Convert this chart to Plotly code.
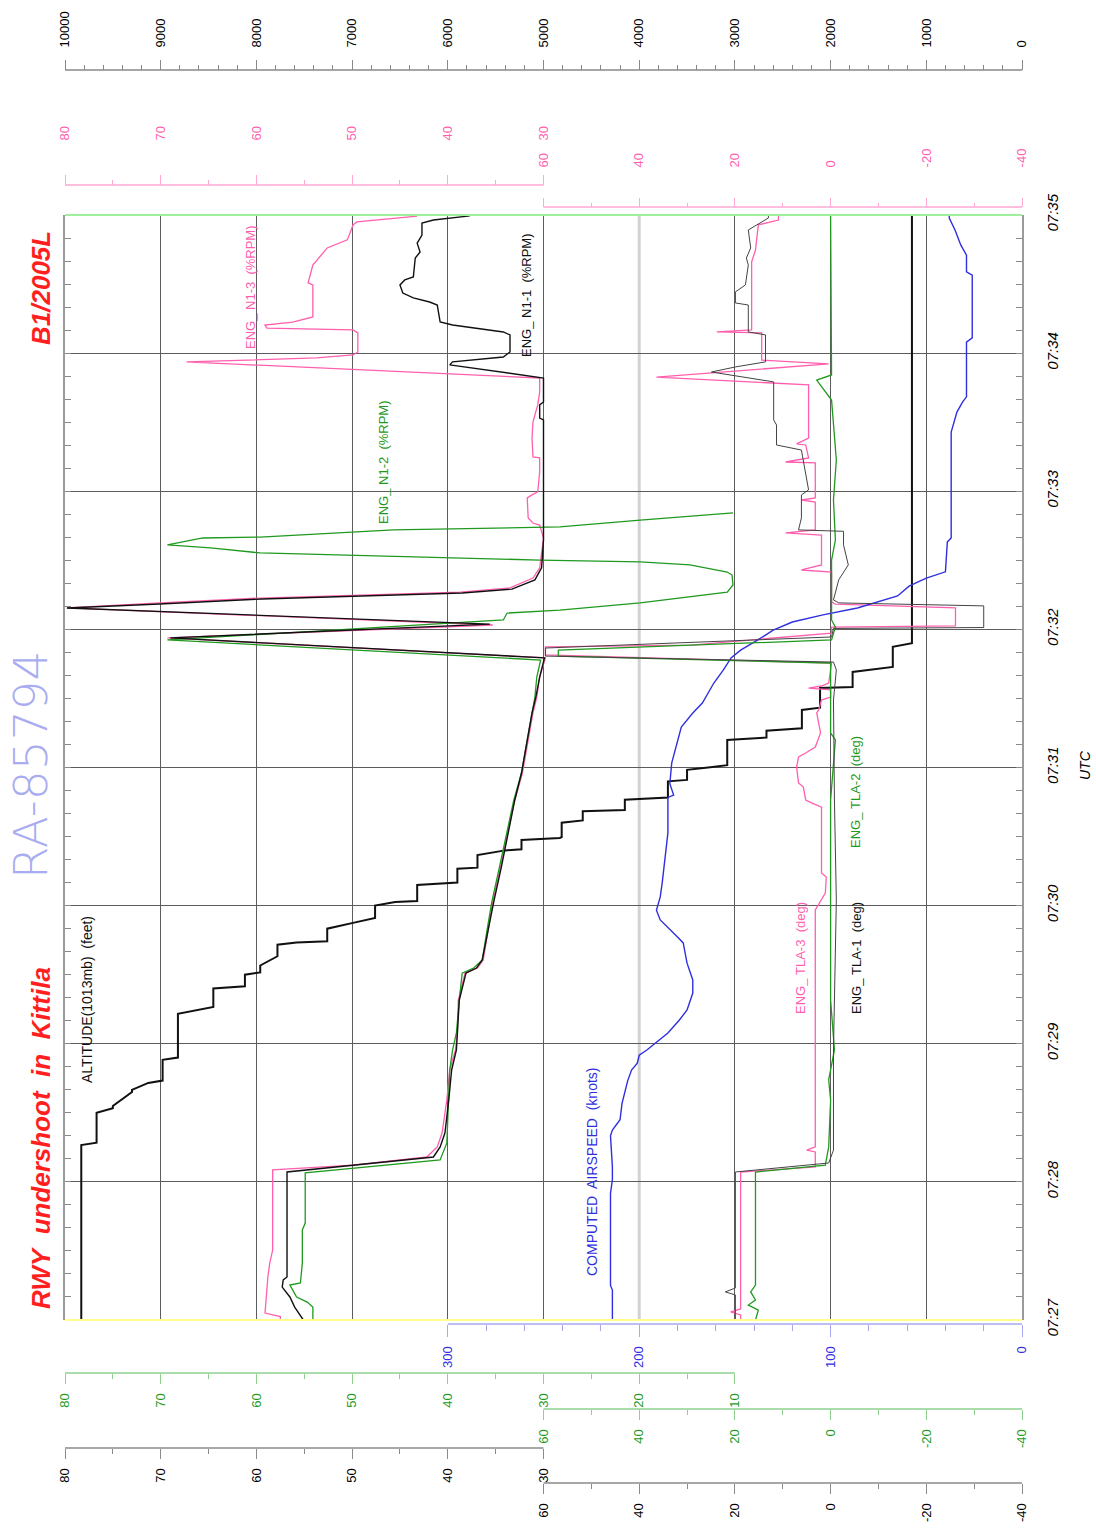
import plotly.graph_objects as go

W, H = 1096, 1531
FONT = "Liberation Sans, Arial, sans-serif"

# ---------------- data (time = seconds after 07:27:00) ----------------
time_ticks = [0, 60, 120, 180, 240, 300, 360, 420, 480]
time_labels = ["07:27", "07:28", "07:29", "07:30", "07:31", "07:32", "07:33", "07:34", "07:35"]

alt_t = [0, 76, 77, 90, 92, 93, 99, 100, 103, 104, 113, 114, 133, 136, 144, 145, 150, 151, 154, 158,
         163, 164, 164.5, 170, 172.5, 174.6, 180, 181.6, 182, 189, 190, 196, 196.5, 202, 204, 204.5,
         208.5, 209.4, 209.8, 216, 217, 221, 221.5, 226, 227, 234, 234.6, 239, 240, 241, 252, 253,
         256, 257, 265, 266, 274.5, 275, 281.5, 283.7, 292.4, 294, 480]
alt_ft = [9830, 9830, 9670, 9670, 9500, 9500, 9300, 9300, 9130, 8980, 8980, 8820, 8820, 8450, 8450, 8120, 8120, 7960, 7960, 7780,
          7780, 7580, 7260, 7260, 6990, 6760, 6760, 6550, 6320, 6320, 5900, 5900, 5690, 5690, 5400, 5230,
          5230, 4830, 4810, 4810, 4590, 4590, 4150, 4150, 3700, 3700, 3500, 3500, 3280, 3080, 3080, 2670,
          2670, 2300, 2300, 2110, 2110, 1770, 1770, 1350, 1350, 1150, 1150]

cas_t = [0, 13, 15, 55, 61, 66.5, 80, 82.5, 87, 94, 104, 108.6, 111.6, 115, 117.3, 118.6, 124.7, 130.3,
         134.7, 142, 147.7, 155, 163.8, 166.4, 170.7, 173.8, 178, 183.8, 189.8, 196.8, 203, 211.6, 220,
         227, 228, 233, 242, 252, 257.6, 263.7, 268, 276.7, 282.4, 287.6, 291, 295.4, 299.7, 303.2,
         306.3, 309.3, 314.5, 318.8, 322.3, 325, 338, 339.7, 385.7, 394.4, 398.8, 401, 424.8, 426.6,
         453.9, 455.3, 462.6, 467, 473.5, 478.7, 480]
cas_kt = [214, 214, 215, 215, 214, 214, 215, 214, 210, 209, 206, 204, 201, 200, 196, 194, 185, 179,
          175, 172, 172, 175, 177, 180, 185, 189, 191, 189, 188, 187, 186, 185, 185,
          185, 182, 184, 183, 180, 178, 172, 167, 161, 156, 152, 147, 138, 130, 120,
          104, 86, 65, 59, 50, 40, 39, 37, 37, 34, 31, 29, 29, 26,
          26, 29, 29, 32, 35, 38, 38]

n1_3_t = [0, 1.5, 3, 18.7, 24.8, 30.4, 65.2, 67.3, 70.8, 75.2, 81.2, 95.6, 108.6, 117.3, 124.7, 139,
          150.7, 152.9, 156.4, 169.4, 181.6, 196.8, 211.6, 225.9, 237.6, 252, 263.7, 270.6, 279.3,
          287.6, 296.3, 301.9, 309.3, 311.5, 313.6, 314.9, 316.2, 318, 322.3, 326.7, 339.7, 345.3,
          346.2, 348.4, 357.1, 358.4, 359.7, 368.4, 374.5, 374.9, 383.1, 390.1, 397.5, 403.1, 409.2,
          416.2, 417.9, 419.2, 420.5, 428.8, 430.1, 430.9, 432.2, 433.5, 435.7, 449.6, 450.5, 458.3,
          465.7, 469.2, 475.7, 477, 479.5]
n1_3 = [57.5, 57.5, 59.1, 58.8, 58.6, 58.3, 58.3, 49.9, 42.2, 41.1, 40.6, 40.1, 39.8, 39.2, 39.0, 38.9,
        38.2, 36.9, 36.3, 35.8, 35.3, 34.5, 33.7, 33.0, 32.2, 31.6, 31.1, 30.7, 30.4,
        29.8, 69.3, 35.3, 79.8, 70.1, 59.6, 49.2, 38.7, 33.5, 31.1, 30.4, 30.0, 30.4,
        31.1, 31.6, 31.7, 31.2, 30.6, 30.4, 30.4, 31.1, 31.2, 31.1, 30.6, 30.4, 30.4,
        67.3, 53.7, 49.9, 49.4, 49.4, 49.9, 58.9, 59.1, 56.2, 54.1, 54.1, 54.6, 54.1,
        52.6, 50.5, 49.9, 49.5, 43.2]

n1_1_t = [0, 5.6, 10, 14.3, 17.4, 18.7, 64.3, 70.8, 75.2, 81.2, 95.6, 108.6, 117.3, 124.7, 139, 150.7,
          152.9, 156.4, 169.4, 181.6, 196.8, 211.6, 225.9, 237.6, 252, 263.7, 270.6, 279.3, 287.6,
          296.3, 302.3, 309.3, 311, 313.2, 314.5, 315.8, 317.5, 321.5, 326.7, 338.8, 391, 391.8,
          397.5, 398.8, 409.2, 414.9, 416.2, 418.3, 420.5, 427.9, 429.2, 432.2, 433.5, 440.9, 442.2,
          444, 446.1, 449.6, 451.8, 453.1, 461.3, 463.9, 467.8, 471.3, 476.5, 477.8, 479.6]
n1_1 = [55.1, 56.0, 56.5, 57.3, 57.2, 56.8, 56.8, 41.5, 40.8, 40.3, 39.9, 39.6, 39.1, 39.0, 38.8, 38.1,
        37.0, 36.4, 35.8, 35.2, 34.4, 33.7, 33.0, 32.3, 31.7, 31.2, 30.8, 30.4, 29.9,
        69.0, 35.6, 79.8, 70.1, 59.4, 49.0, 38.5, 33.3, 30.9, 30.2, 30.0, 30.0, 30.4,
        30.4, 30.0, 30.0, 39.8, 39.5, 34.2, 33.5, 33.5, 34.2, 39.5, 40.8, 41.1, 41.9,
        43.6, 44.7, 45.0, 44.5, 43.6, 43.4, 42.9, 43.2, 42.7, 42.7, 41.5, 37.7]

n1_2_t = [0, 5.6, 7.8, 10, 13, 15.2, 16.1, 24.8, 39.1, 42.1, 63.9, 69.5, 76.9, 108.6, 117.3, 124.7, 139,
          150.7, 152.9, 156.4, 169.4, 181.6, 196.8, 211.6, 225.9, 237.6, 252, 263.7, 270.6, 279.3,
          286.7, 295.4, 304.1, 307.1, 308.4, 311.5, 314.1, 316.2, 319.3, 323.6, 324.9, 328, 329.3,
          330.1, 333.2, 335.4, 336.7, 339.7, 340.1, 343.2, 344.5, 347.5, 350.6]
n1_2 = [54.1, 54.1, 54.7, 55.8, 56.2, 56.5, 55.4, 55.2, 55.2, 54.9, 54.9, 40.8, 40.1, 39.8, 39.5, 39.1, 38.8,
        38.5, 37.3, 36.4, 35.9, 35.4, 34.6, 33.8, 33.1, 32.3, 31.7, 31.2, 30.9, 30.7,
        30.3, 69.3, 34.2, 33.8, 28.3, 19.9, 14.7, 10.8, 10.2, 10.3, 10.8, 14.7, 19.9,
        30.4, 59.6, 64.8, 69.3, 65.6, 59.6, 45.7, 28.3, 19.9, 10.2]

tla_1_t = [0, 10.9, 12.2, 13.9, 64.3, 68.2, 73.8, 117.3, 182.4, 225.9, 269.3, 282.4, 285.8, 288.4, 291.9,
           294.5, 296.7, 300.4, 300.8, 310.2, 311.5, 312.8, 321.5, 328, 336.7, 342.6, 343.2, 348.4, 358.4,
           360.6, 377.9, 380.1, 388.8, 391, 407.5, 411.8, 414, 416.2, 427.9, 429.2, 440.9, 441.8,
           446.6, 449.6, 458.3, 461.3, 465.7, 473.5, 478.7, 480]
tla_1 = [19.9, 19.9, 22.0, 19.9, 19.9, 0.4, -0.6, -0.6, -1.2, -0.8, -0.6, -1.2, -0.6, 59.6, 59.6,
         27.6, -0.2, -0.6, -32.0, -32.0, -1.7, -0.6, -1.7, -3.7, -2.7, -2.7, 6.7, 6.1, 6.1,
         4.6, 6.1, 11.3, 11.3, 11.9, 11.9, 24.9, 19.9, 13.6, 13.6, 17.2, 17.2, 19.9,
         19.9, 17.8, 17.2, 17.6, 16.7, 17.2, 13.0, 13.0]

tla_3_t = [0, 2.2, 3.5, 4.8, 64.3, 66.5, 73, 73.8, 75.2, 178.1, 185.5, 192.4, 194.2, 222.8, 224.6, 225.9,
           231.5, 233.3, 240.2, 244.6, 246.3, 248.9, 255, 263.7, 265, 269.3, 270.6, 273.7, 274.5, 275.4,
           276.7, 285.4, 288.9, 292.4, 293.2, 298.4, 301, 301.5, 309.3, 311, 311.9, 324.9, 325.8, 328,
           341, 341.9, 343.2, 355.3, 356.2, 357.1, 372.3, 372.7, 374.5, 380.1, 380.6, 383.1, 406.2,
           409.6, 415.3, 417, 428.8, 429.2, 430.1, 459.6, 464.8, 475.7, 477.8, 480]
tla_3 = [18.8, 18.8, 20.9, 18.8, 18.8, 3.2, 3.2, 5.0, 3.2, 3.2, 1.1, 0.9, 1.9, 1.9, 4.0, 5.2,
         5.7, 6.7, 7.1, 6.7, 5.2, 3.2, 2.1, 2.9, 2.5, 1.9, 0.0, 0.0, 4.6, 1.9,
         0.4, -0.2, 59.6, 59.6, 29.1, -0.2, -0.2, -26.1, -26.1, -1.0, -0.2, -0.2, 6.1, 1.9,
         1.9, 9.4, 3.2, 3.2, 6.1, 3.2, 3.2, 9.4, 4.6, 5.2, 7.1, 4.6, 4.6,
         36.4, 0.4, 14.4, 14.4, 23.8, 16.5, 16.5, 15.7, 15.1, 10.9, 10.9]

tla_2_t = [0, 4.3, 6.5, 8.7, 12.2, 15.2, 64.3, 67.3, 75.2, 95.6, 104.3, 117.3, 139, 225.9, 252, 255,
           285.4, 288.4, 291, 295.4, 301, 304.1, 330.1, 338.8, 356.2, 373.6, 399.6, 408.3, 410.5, 480]
tla_2 = [15.7, 15.1, 17.2, 15.7, 16.7, 15.7, 15.7, 1.1, 0.4, 0.0, 0.4, -0.8, 0.0, 0.0, -1.0, 0.0,
         0.0, 56.9, 56.9, -0.2, -1.0, -0.2, -0.2, -1.0, -0.6, -1.2, -0.2, 2.9, -0.2, 0.0]

# axis tick values
alt_ticks = list(range(0, 10001, 1000))
alt_minor = [v for v in range(0, 10001, 200) if v % 1000]
n1_ticks_top = [80, 70, 60, 50, 40, 30]
n1_minor_top = [75, 65, 55, 45, 35]
n1_ticks_green = [80, 70, 60, 50, 40, 30, 20, 10]
n1_minor_green = [75, 65, 55, 45, 35, 25, 15]
tla_ticks = [60, 40, 20, 0, -20, -40]
tla_minor = [50, 30, 10, -10, -30]
cas_ticks = [300, 200, 100, 0]
cas_minor = [v for v in range(0, 301, 20) if v % 100]

# ---------------- colours ----------------
PINK = "#ff5fae"
GREEN = "#1f9a1f"
BLUE = "#2f2fe0"
BLACK = "#111111"
GRID = "#5c5c5c"


def px(x):
    return x / W


def py(y):
    return 1 - y / H


fig = go.Figure()

# traces
fig.add_trace(go.Scatter(x=alt_ft, y=alt_t, xaxis="x2", yaxis="y", mode="lines",
                         line=dict(color=BLACK, width=2.0)))
fig.add_trace(go.Scatter(x=cas_kt, y=cas_t, xaxis="x5", yaxis="y", mode="lines",
                         line=dict(color=BLUE, width=1.4)))
fig.add_trace(go.Scatter(x=tla_1, y=tla_1_t, xaxis="x9", yaxis="y", mode="lines",
                         line=dict(color="#444444", width=1.0)))
fig.add_trace(go.Scatter(x=tla_2, y=tla_2_t, xaxis="x7", yaxis="y", mode="lines",
                         line=dict(color=GREEN, width=1.3)))
fig.add_trace(go.Scatter(x=tla_3, y=tla_3_t, xaxis="x4", yaxis="y", mode="lines",
                         line=dict(color=PINK, width=1.3)))
fig.add_trace(go.Scatter(x=n1_2, y=n1_2_t, xaxis="x6", yaxis="y", mode="lines",
                         line=dict(color=GREEN, width=1.3)))
fig.add_trace(go.Scatter(x=n1_1, y=n1_1_t, xaxis="x8", yaxis="y", mode="lines",
                         line=dict(color=BLACK, width=1.4)))
fig.add_trace(go.Scatter(x=n1_3, y=n1_3_t, xaxis="x3", yaxis="y", mode="lines",
                         line=dict(color=PINK, width=1.3)))


def vaxis(rng, ypix, side, ticks, minor, linecol, labcol, ticklen=10, standoff=None):
    d = dict(range=rng, overlaying="x", anchor="free", position=py(ypix), side=side,
             tickmode="array", tickvals=ticks, ticktext=[str(v) for v in ticks],
             ticks="outside", ticklen=ticklen, tickwidth=1, tickcolor=linecol,
             minor=dict(tickmode="array", tickvals=minor, ticks="outside",
                        ticklen=max(4, ticklen // 2), tickwidth=1, tickcolor=linecol),
             tickangle=-90, tickfont=dict(family=FONT, size=13, color=labcol),
             showline=False, showgrid=False, zeroline=False, automargin=False)
    if standoff is not None:
        d["ticklabelstandoff"] = standoff
    return d


PL, PR, PT, PB = 65, 1022, 215, 1320

layout = dict(
    width=W, height=H, margin=dict(l=0, r=0, t=0, b=0),
    paper_bgcolor="white", plot_bgcolor="white", showlegend=False,
    xaxis=dict(domain=[px(PL), px(PR)], range=[80, -20], anchor="y",
               tickmode="array", tickvals=[70, 60, 50, 40, 30, 10, 0, -10],
               showticklabels=False, ticks="", showgrid=True, gridcolor=GRID, gridwidth=1,
               zeroline=False, showline=False),
    yaxis=dict(domain=[py(PB), py(PT)], range=[0, 480], anchor="x", side="right",
               tickmode="array", tickvals=time_ticks, ticktext=time_labels,
               tickangle=-90, ticks="inside", ticklen=6, tickcolor="#888888",
               minor=dict(tickmode="linear", tick0=0, dtick=10, ticks="inside", ticklen=6,
                          tickcolor="#888888", showgrid=False),
               showgrid=True, gridcolor=GRID, gridwidth=1, zeroline=False,
               showline=True, linecolor="#9a9a9a", linewidth=1.5, mirror="ticks",
               tickfont=dict(family=FONT, size=15, style="italic", color="black"),
               ticklabelstandoff=16, automargin=False),
    xaxis2=vaxis([10000, 0], 70, "top", alt_ticks, alt_minor, "#888888", "black", 10, 10),
    xaxis3=vaxis([80, -20], 185, "top", n1_ticks_top, n1_minor_top, "#ffa8d2", PINK, 10, 32),
    xaxis4=vaxis([160, -40], 207, "top", tla_ticks, tla_minor, "#ffa8d2", PINK, 9, 28),
    xaxis5=vaxis([500, 0], 1324, "bottom", cas_ticks, cas_minor, "#a8a8f0", BLUE, 12, 4),
    xaxis6=vaxis([80, -20], 1373, "bottom", n1_ticks_green, n1_minor_green, "#8fd08f", GREEN, 10, 4),
    xaxis7=vaxis([160, -40], 1409, "bottom", tla_ticks, tla_minor, "#8fd08f", GREEN, 10, 4),
    xaxis8=vaxis([80, -20], 1448, "bottom", n1_ticks_top, n1_minor_top, "#8a8a8a", "black", 10, 4),
    xaxis9=vaxis([160, -40], 1483, "bottom", tla_ticks, tla_minor, "#8a8a8a", "black", 10, 4),
)
fig.update_layout(**layout)

shapes = [
    # light grid line at 20 % / 200 kt
    dict(type="line", xref="x", yref="paper", x0=20, x1=20, y0=py(PB), y1=py(PT),
         line=dict(color="#d2d2d2", width=3), layer="below"),
    # top (green) and bottom (yellow) frame
    dict(type="line", xref="paper", yref="paper", x0=px(PL), x1=px(PR), y0=py(PT), y1=py(PT),
         line=dict(color="#9ff09f", width=2)),
    dict(type="line", xref="paper", yref="paper", x0=px(PL), x1=px(PR), y0=py(PB), y1=py(PB),
         line=dict(color="#ffff8a", width=2)),
    # partial axis lines
    dict(type="line", xref="x2", yref="paper", x0=10000, x1=0, y0=py(70), y1=py(70),
         line=dict(color="#888888", width=1.5)),
    dict(type="line", xref="x3", yref="paper", x0=80, x1=30, y0=py(185), y1=py(185),
         line=dict(color="#ffa8d2", width=1.5)),
    dict(type="line", xref="x4", yref="paper", x0=60, x1=-40, y0=py(207), y1=py(207),
         line=dict(color="#ffa8d2", width=1.5)),
    dict(type="line", xref="x5", yref="paper", x0=300, x1=0, y0=py(1324), y1=py(1324),
         line=dict(color="#a8a8f0", width=1.5)),
    dict(type="line", xref="x6", yref="paper", x0=80, x1=10, y0=py(1373), y1=py(1373),
         line=dict(color="#8fd08f", width=1.5)),
    dict(type="line", xref="x7", yref="paper", x0=60, x1=-40, y0=py(1409), y1=py(1409),
         line=dict(color="#8fd08f", width=1.5)),
    dict(type="line", xref="x8", yref="paper", x0=80, x1=30, y0=py(1448), y1=py(1448),
         line=dict(color="#8a8a8a", width=1.5)),
    dict(type="line", xref="x9", yref="paper", x0=60, x1=-40, y0=py(1483), y1=py(1483),
         line=dict(color="#8a8a8a", width=1.5)),
]
fig.update_layout(shapes=shapes)


def note(text, x, y, color, size=14, style="normal", weight="normal", family=FONT):
    return dict(text=text, x=px(x), y=py(y), xref="paper", yref="paper", showarrow=False,
                textangle=-90, xanchor="center", yanchor="middle",
                font=dict(family=family, size=size, color=color, style=style, weight=weight))


NB = "\u00a0"
annotations = [
    note("RWY" + NB + " undershoot" + NB + " in" + NB + " Kittila", 41, 1138, "#ff1f1f", 26, "italic", "bold"),
    note("RA-85794", 30, 765, "#a9adf0", 47, "normal", 200, "DejaVu Sans, Liberation Sans, sans-serif"),
    note("B1/2005L", 41, 288, "#ff1f1f", 26, "italic", "bold"),
    note("UTC", 1085, 765, "black", 14, "italic"),
    note("ALTITUDE(1013mb)" + NB + " (feet)", 87, 1000, BLACK, 14),
    note("COMPUTED" + NB + " AIRSPEED" + NB + " (knots)", 592, 1172, BLUE, 14),
    note("ENG_" + NB + "TLA-3" + NB + " (deg)", 801, 958, PINK, 13),
    note("ENG_" + NB + "TLA-1" + NB + " (deg)", 857, 958, BLACK, 13),
    note("ENG_" + NB + "TLA-2" + NB + " (deg)", 855, 792, GREEN, 13),
    note("ENG_" + NB + "N1-2" + NB + " (%RPM)", 383, 462, GREEN, 13),
    note("ENG_" + NB + "N1-3" + NB + " (%RPM)", 250, 287, PINK, 13),
    note("ENG_" + NB + "N1-1" + NB + " (%RPM)", 527, 295, BLACK, 13),
]
fig.update_layout(annotations=annotations)

fig.write_html("out.html", config={"displayModeBar": False},
               post_script="document.body.style.margin='0';")
